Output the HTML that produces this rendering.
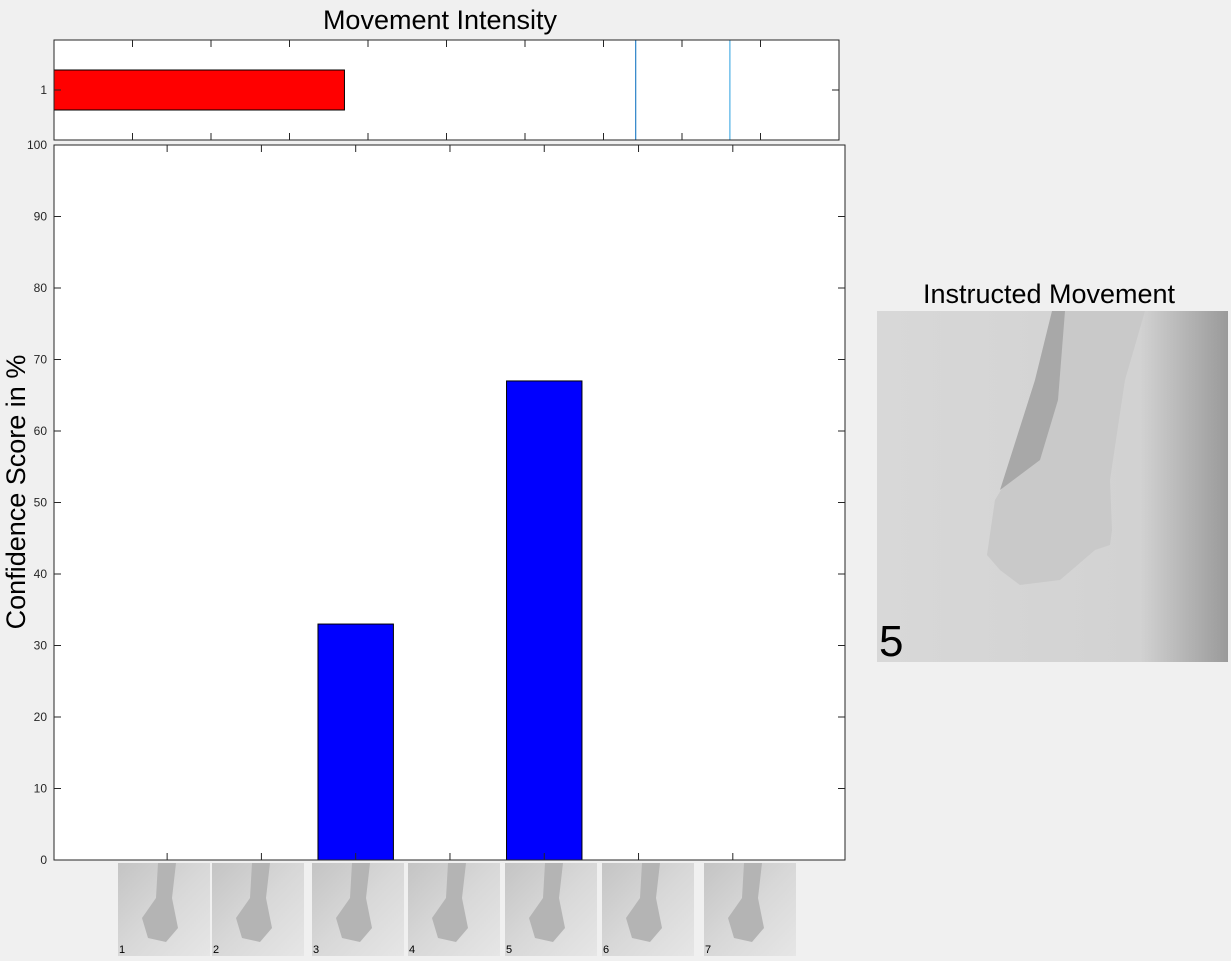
<!DOCTYPE html>
<html><head><meta charset="utf-8"><style>
body{margin:0;background:#f0f0f0;width:1231px;height:961px;overflow:hidden;font-family:"Liberation Sans",sans-serif;}
svg{position:absolute;left:0;top:0}
</style></head><body>
<svg width="1231" height="961">
<defs>
<linearGradient id="bg" x1="0" y1="0" x2="1" y2="1"><stop offset="0" stop-color="#c4c4c4"/><stop offset="0.5" stop-color="#d8d8d8"/><stop offset="1" stop-color="#e6e6e6"/></linearGradient>
<linearGradient id="bg2" x1="0" y1="0" x2="1" y2="0"><stop offset="0" stop-color="#d8d8d8"/><stop offset="0.75" stop-color="#d2d2d2"/><stop offset="1" stop-color="#9a9a9a"/></linearGradient>
</defs>
<g id="topAx"></g>
<g id="mainAx"></g>
<g id="thumbs"></g>
<text x="440" y="29" font-size="27" text-anchor="middle">Movement Intensity</text>
<text transform="translate(25,492) rotate(-90)" font-size="27" text-anchor="middle">Confidence Score in %</text>
<text x="1049" y="303" font-size="27" text-anchor="middle">Instructed Movement</text>
<g>
<rect x="877" y="311" width="351" height="351" fill="url(#bg2)"/>
<path d="M1052 311 L1145 311 L1125 380 L1110 480 L1112 530 L1110 545 L1095 550 L1060 580 L1020 585 L1000 570 L987 555 L995 500 L1025 450 L1035 380 Z" fill="#c9c9c9"/>
<path d="M1052 311 L1065 311 L1058 400 L1040 460 L1000 490 L1035 380 Z" fill="#a8a8a8"/>
<text x="879" y="656" font-size="44">5</text>
</g>
</svg>
<script>
const NS='http://www.w3.org/2000/svg';
// top chart data
const intensityValue=[3.7];
const thresholdLines=[7.41,8.61];
const topTicks=[1,2,3,4,5,6,7,8,9];
// main chart data
const categories=[1,2,3,4,5,6,7];
const confidence=[0,0,33,0,67,0,0];
const yTicks=[0,10,20,30,40,50,60,70,80,90,100];

(function(){
function mk(p,t,a){const e=document.createElementNS(NS,t);for(const k in a)e.setAttribute(k,a[k]);p.appendChild(e);return e;}
const T={x0:54,x1:839,y0:40,y1:140};
const tx=v=>T.x0+v/10*(T.x1-T.x0);
const ty=v=>T.y1-(v-0.5)*(T.y1-T.y0);
const topG=document.getElementById('topAx');
mk(topG,'rect',{x:T.x0,y:T.y0,width:T.x1-T.x0,height:T.y1-T.y0,fill:'#fff'});
intensityValue.forEach(v=>{
 const r=mk(topG,'rect',{x:tx(0),y:ty(1.2),width:tx(v)-tx(0),height:ty(0.8)-ty(1.2),fill:'#ff0000',stroke:'#000','stroke-width':1});
 
 
});
thresholdLines.forEach((v,i)=>{
 const l=mk(topG,'line',{x1:tx(v),x2:tx(v),y1:T.y0,y2:T.y1,stroke:i?'#4db0e6':'#2a82c8','stroke-width':1.2});
 
 
});
topTicks.forEach(v=>{
 mk(topG,'line',{x1:tx(v),x2:tx(v),y1:T.y0,y2:T.y0+7,stroke:'#262626'});
 mk(topG,'line',{x1:tx(v),x2:tx(v),y1:T.y1,y2:T.y1-7,stroke:'#262626'});
});
mk(topG,'line',{x1:T.x0,x2:T.x0+7,y1:ty(1),y2:ty(1),stroke:'#262626'});
mk(topG,'line',{x1:T.x1,x2:T.x1-7,y1:ty(1),y2:ty(1),stroke:'#262626'});
const tl=mk(topG,'text',{x:47,y:ty(1)+4,'font-size':12,'text-anchor':'end',fill:'#262626'});tl.textContent='1';
mk(topG,'rect',{x:T.x0,y:T.y0,width:T.x1-T.x0,height:T.y1-T.y0,fill:'none',stroke:'#262626'});

const M={x0:54,x1:845,y0:145,y1:860,xmin:-0.2,xmax:8.19};
const mx=v=>M.x0+(v-M.xmin)/(M.xmax-M.xmin)*(M.x1-M.x0);
const my=v=>M.y1-v/100*(M.y1-M.y0);
const mainG=document.getElementById('mainAx');
mk(mainG,'rect',{x:M.x0,y:M.y0,width:M.x1-M.x0,height:M.y1-M.y0,fill:'#fff'});
categories.forEach((c,i)=>{
 const v=confidence[i];
 const r=mk(mainG,'rect',{x:mx(c-0.4),y:my(v),width:mx(c+0.4)-mx(c-0.4),height:my(0)-my(v),fill:'#0000ff',stroke:'#000','stroke-width':1});
 
 
 mk(mainG,'line',{x1:mx(c),x2:mx(c),y1:M.y1,y2:M.y1-7,stroke:'#262626'});
 mk(mainG,'line',{x1:mx(c),x2:mx(c),y1:M.y0,y2:M.y0+7,stroke:'#262626'});
});
yTicks.forEach(v=>{
 mk(mainG,'line',{x1:M.x0,x2:M.x0+7,y1:my(v),y2:my(v),stroke:'#262626'});
 mk(mainG,'line',{x1:M.x1,x2:M.x1-7,y1:my(v),y2:my(v),stroke:'#262626'});
 const t=mk(mainG,'text',{x:47,y:my(v)+4,'font-size':12,'text-anchor':'end',fill:'#262626'});
 t.textContent=v;
 
 
});
mk(mainG,'rect',{x:M.x0,y:M.y0,width:M.x1-M.x0,height:M.y1-M.y0,fill:'none',stroke:'#262626'});

const thumbX=[118,212,312,408,505,602,704];
const th=document.getElementById('thumbs');
categories.forEach((c,i)=>{
 const g=mk(th,'g',{});
 
 
 mk(g,'rect',{x:thumbX[i],y:863,width:92,height:93,fill:'url(#bg)'});
 mk(g,'path',{d:`M${thumbX[i]+40} 863 l18 0 l-4 35 l6 30 l-12 14 l-18 -4 l-6 -20 l14 -20 z`,fill:'#b4b4b4'});
 const t=mk(g,'text',{x:thumbX[i]+1,y:953,'font-size':11,fill:'#000'});t.textContent=c;
});
})();
</script>
</body></html>
